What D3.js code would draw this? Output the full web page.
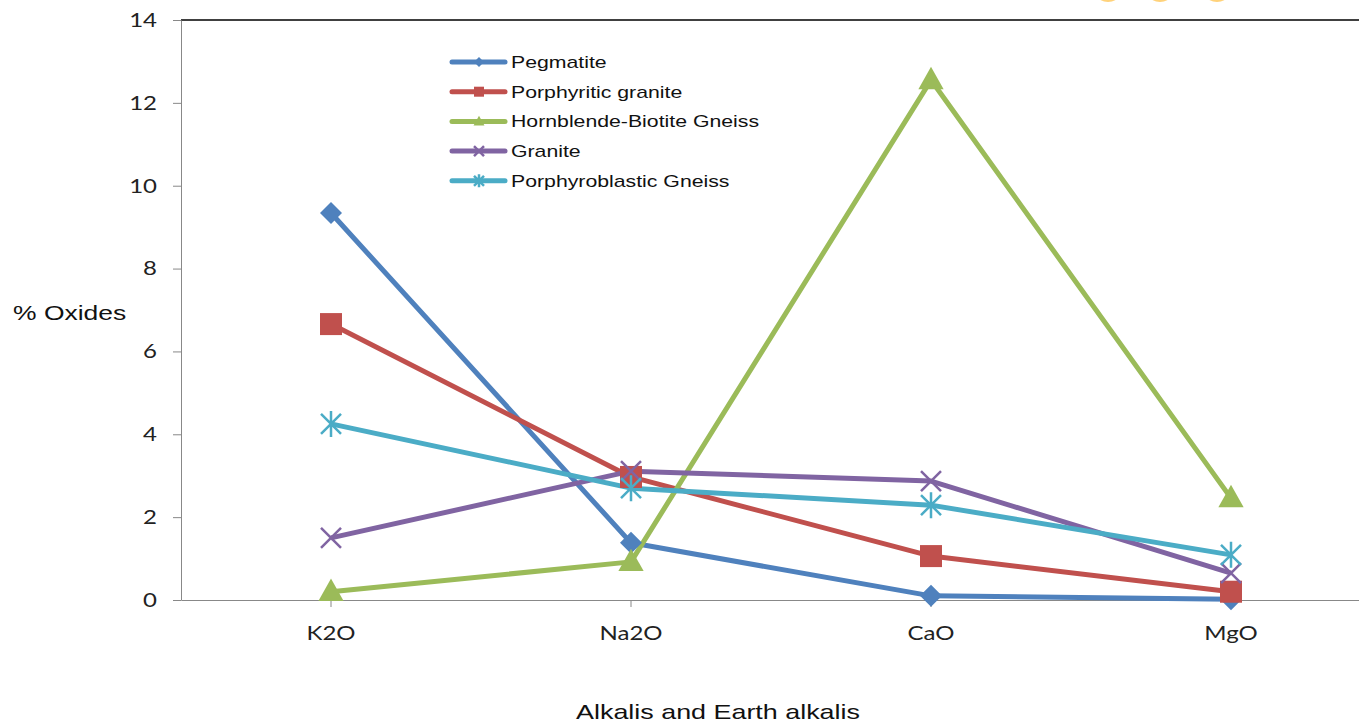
<!DOCTYPE html>
<html>
<head>
<meta charset="utf-8">
<script src="https://cdn.jsdelivr.net/npm/d3@7"></script>
<style>
  body { margin: 0; background: #fff; }
  svg { display: block; }
</style>
</head>
<body>
<div id="chart"></div>
<script>
// categories and values
const categories = ['K2O', 'Na2O', 'CaO', 'MgO'];
const seriesNames = ['Pegmatite', 'Porphyritic granite', 'Hornblende-Biotite Gneiss', 'Granite', 'Porphyroblastic Gneiss'];
const pegmatite = [9.34, 1.38, 0.1, 0.02];
const porphyriticGranite = [6.66, 2.97, 1.06, 0.2];
const hornblendeGneiss = [0.2, 0.92, 12.55, 2.46];
const granite = [1.5, 3.11, 2.87, 0.65];
const porphyroblasticGneiss = [4.25, 2.7, 2.29, 1.09];
const yTicks = [0, 2, 4, 6, 8, 10, 12, 14];

const seriesValues = [pegmatite, porphyriticGranite, hornblendeGneiss, granite, porphyroblasticGneiss];
const colors = ['#4F81BD', '#C0504D', '#9BBB59', '#8064A2', '#4BACC6'];
const markers = ['diamond', 'square', 'triangle', 'x', 'star'];

var width = 1359, height = 727;
var svg = d3.select('#chart').append('svg')
    .attr('width', width)
    .attr('height', height);

// plot area bounds (the picture is cut at the right edge)
var plotLeft = 181, plotTop = 20, plotBottom = 600, plotRight = 1381;

var x = d3.scaleBand().domain(categories).range([plotLeft, plotRight]);
var y = d3.scaleLinear().domain([0, 14]).range([plotBottom, plotTop]);
var cx = d => x(d) + x.bandwidth() / 2;

// the source picture is stretched sideways, so text is widened too
function widen(sel, stretch) {
    sel.each(function() {
        var w = this.getComputedTextLength();
        d3.select(this)
            .attr('textLength', w * stretch)
            .attr('lengthAdjust', 'spacingAndGlyphs');
    });
}

// top border of the plot area
svg.append('line')
    .attr('x1', plotLeft).attr('x2', width)
    .attr('y1', y(14)).attr('y2', y(14))
    .attr('stroke', '#000').attr('stroke-width', 1.3);

// y axis
var yAxis = svg.append('g')
    .attr('transform', `translate(${plotLeft},0)`)
    .call(d3.axisLeft(y).tickValues(yTicks).tickSize(8).tickPadding(16).tickSizeOuter(0));
yAxis.select('.domain').attr('stroke', '#888');
yAxis.selectAll('.tick line').attr('stroke', '#888');
yAxis.selectAll('.tick text')
    .attr('font-family', 'Lato, "Open Sans", sans-serif')
    .attr('font-size', 20)
    .attr('fill', '#222')
    .call(widen, 1.2);

// x axis
var xAxis = svg.append('g')
    .attr('transform', `translate(0,${plotBottom})`)
    .call(d3.axisBottom(x).tickSize(7).tickPadding(19).tickSizeOuter(0));
xAxis.select('.domain').attr('stroke', '#888');
xAxis.selectAll('.tick line').attr('stroke', '#888');
xAxis.selectAll('.tick text')
    .attr('font-family', 'Lato, "Open Sans", sans-serif')
    .attr('font-size', 20)
    .attr('fill', '#222')
    .call(widen, 1.2);

// axis titles
svg.append('text')
    .attr('x', 13).attr('y', 320)
    .attr('font-family', '"Liberation Sans", Arial, sans-serif')
    .attr('font-size', 21)
    .attr('fill', '#111')
    .text('% Oxides')
    .call(widen, 1.26);

svg.append('text')
    .attr('x', 718).attr('y', 719)
    .attr('text-anchor', 'middle')
    .attr('font-family', '"Liberation Sans", Arial, sans-serif')
    .attr('font-size', 21)
    .attr('fill', '#111')
    .text('Alkalis and Earth alkalis')
    .call(widen, 1.28);

// small cut-off shapes at the top edge
svg.selectAll('ellipse.deco')
    .data([1108, 1160, 1217])
    .enter().append('ellipse')
    .attr('class', 'deco')
    .attr('cx', d => d).attr('cy', -4)
    .attr('rx', 10).attr('ry', 6)
    .attr('fill', '#FFD27A');

function drawMarker(g, type, color, s) {
    if (type === 'diamond') {
        g.append('path')
            .attr('d', `M0,${-s}L${s},0L0,${s}L${-s},0Z`)
            .attr('fill', color);
    } else if (type === 'square') {
        g.append('rect')
            .attr('x', -s).attr('y', -s)
            .attr('width', 2 * s).attr('height', 2 * s)
            .attr('fill', color);
    } else if (type === 'triangle') {
        g.append('path')
            .attr('d', `M0,${-s * 1.15}L${s * 1.1},${s * 0.8}L${-s * 1.1},${s * 0.8}Z`)
            .attr('fill', color);
    } else if (type === 'x') {
        g.append('path')
            .attr('d', `M${-s},${-s}L${s},${s}M${-s},${s}L${s},${-s}`)
            .attr('stroke', color).attr('stroke-width', 2.5).attr('fill', 'none');
    } else if (type === 'star') {
        g.append('path')
            .attr('d', `M${-s},${-s}L${s},${s}M${-s},${s}L${s},${-s}M0,${-s * 1.3}L0,${s * 1.3}`)
            .attr('stroke', color).attr('stroke-width', 2.5).attr('fill', 'none');
    }
}

var line = d3.line()
    .x((d, i) => cx(categories[i]))
    .y(d => y(d));

var markerSize = [11, 11, 11.5, 10, 10];

seriesValues.forEach(function(vals, si) {
    svg.append('path')
        .datum(vals)
        .attr('d', line)
        .attr('fill', 'none')
        .attr('stroke', colors[si])
        .attr('stroke-width', 5)
        .attr('stroke-linejoin', 'round');
});

seriesValues.forEach(function(vals, si) {
    vals.forEach(function(v, i) {
        var g = svg.append('g')
            .attr('transform', `translate(${cx(categories[i])},${y(v)})`);
        drawMarker(g, markers[si], colors[si], markerSize[si]);
    });
});

// legend
var legend = svg.append('g').attr('transform', 'translate(450,62)');
seriesNames.forEach(function(name, i) {
    var row = legend.append('g').attr('transform', `translate(0,${i * 29.7})`);
    row.append('line')
        .attr('x1', 2).attr('x2', 55)
        .attr('stroke', colors[i])
        .attr('stroke-width', 5)
        .attr('stroke-linecap', 'round');
    var m = row.append('g').attr('transform', 'translate(29,0)');
    drawMarker(m, markers[i], colors[i], 5);
    row.append('text')
        .attr('x', 61).attr('y', 6)
        .attr('font-family', '"Liberation Sans", Arial, sans-serif')
        .attr('font-size', 17)
        .attr('fill', '#111')
        .text(name)
        .call(widen, 1.25);
});
</script>
</body>
</html>
